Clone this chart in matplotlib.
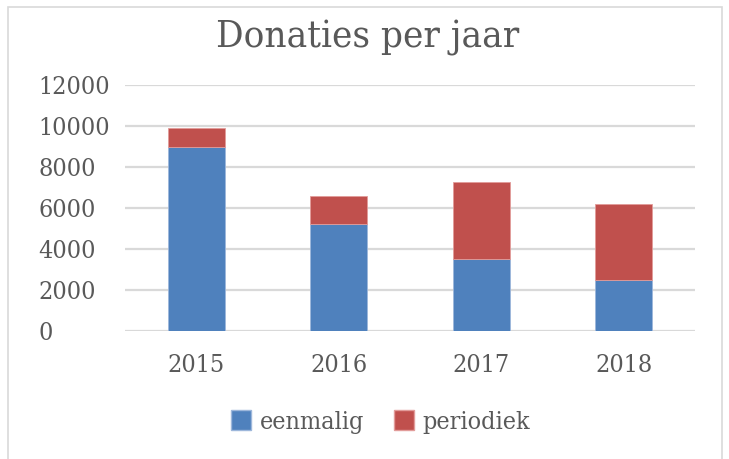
import matplotlib
matplotlib.use("Agg")
import matplotlib.pyplot as plt
from matplotlib import font_manager
from matplotlib.patches import Rectangle, Patch
import numpy as np

years = ["2015", "2016", "2017", "2018"]
eenmalig = [9000, 5200, 3500, 2500]
periodiek = [900, 1400, 3750, 3700]
yticks = [0, 2000, 4000, 6000, 8000, 10000, 12000]

BLUE = "#4F81BD"
RED = "#C0504D"
TXT = "#595959"
GRID = "#D9D9D9"

# prefer a condensed serif (closest to Cambria proportions) when available
cond = [f for f in font_manager.fontManager.ttflist
        if f.name == "DejaVu Serif" and f.stretch == "condensed"
        and f.style == "normal" and f.weight in (400, "normal")]
if cond:
    FP = dict(fname=cond[0].fname)
else:
    FP = dict(family="Liberation Serif")

def fp(size):
    return font_manager.FontProperties(size=size, **FP)

W, H = 729, 459
fig = plt.figure(figsize=(W / 100, H / 100), dpi=100)
fig.patch.set_facecolor("white")

fig.add_artist(Rectangle((8 / W, -0.01), (722 - 8) / W, (459 - 7) / H + 0.01,
                         transform=fig.transFigure, fill=False,
                         edgecolor=GRID, linewidth=1.2))

left, right, top, bottom = 125, 695, 85, 331
ax = fig.add_axes([left / W, 1 - bottom / H, (right - left) / W, (bottom - top) / H])

x = np.arange(len(years))
ax.bar(x, eenmalig, width=0.4, color=BLUE, edgecolor="#9DB7DB", linewidth=0.6, zorder=3,
       label="eenmalig")
ax.bar(x, periodiek, width=0.4, bottom=eenmalig, color=RED, edgecolor="#E29C9A",
       linewidth=0.6, zorder=3, label="periodiek")

ax.set_xlim(-0.5, len(years) - 0.5)
ax.set_ylim(0, 12000)
ax.set_yticks(yticks)
ax.set_yticklabels([str(v) for v in yticks], fontproperties=fp(18), color=TXT)
for lab in ax.get_yticklabels():
    lab.set_horizontalalignment("left")
ax.tick_params(axis="y", length=0, pad=(left - 38) * 0.72)
ax.set_xticks(x)
ax.set_xticklabels(years, fontproperties=fp(18), color=TXT)
ax.tick_params(axis="x", length=0, pad=16.5)
ax.grid(axis="y", color=GRID, linewidth=1.6, zorder=0)
for s in ax.spines.values():
    s.set_visible(False)

fig.text(368 / W, 1 - 47 / H, "Donaties per jaar", ha="center", va="baseline",
         fontproperties=fp(27.5), color=TXT)

handles = [Patch(facecolor=BLUE, edgecolor="#9DB7DB"), Patch(facecolor=RED, edgecolor="#E29C9A")]
fig.legend(handles, ["eenmalig", "periodiek"], loc="center", bbox_to_anchor=(380.5 / W, 1 - 422 / H),
           ncol=2, frameon=False, prop=fp(18), labelcolor=TXT,
           handlelength=0.8, handleheight=0.8, handletextpad=0.35, columnspacing=1.2)

fig.savefig("out.png", dpi=100, facecolor="white")
